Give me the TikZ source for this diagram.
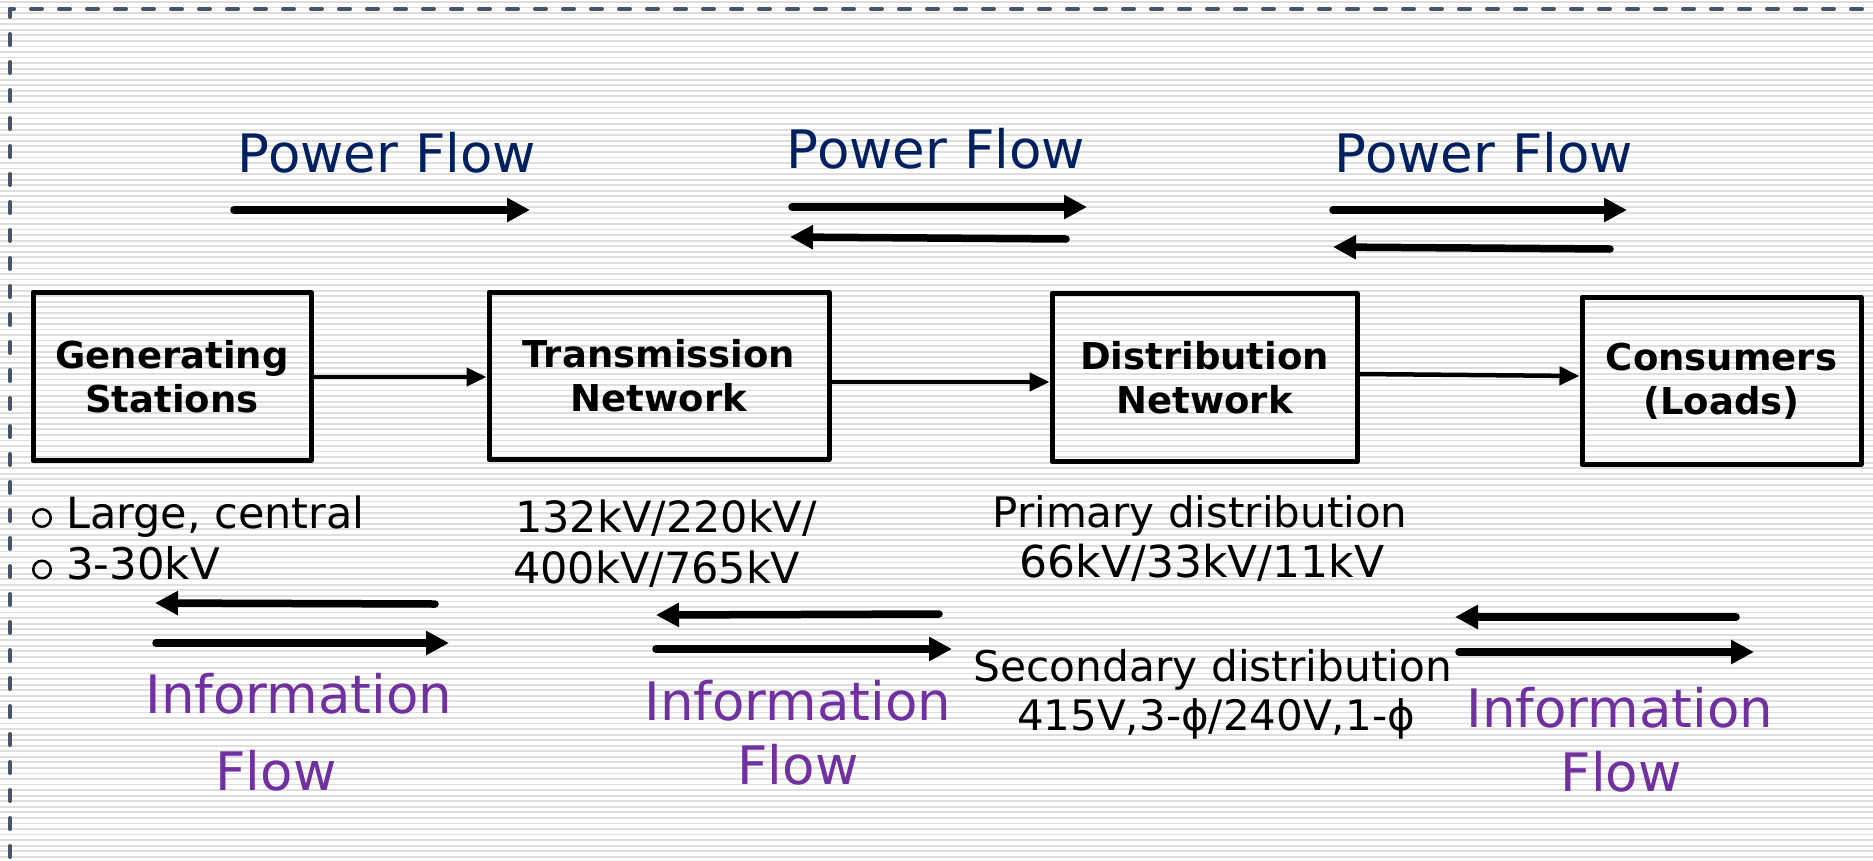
\documentclass[tikz,border=0pt]{standalone}
\usepackage{fontspec}
\setmainfont{DejaVu Sans}
\usetikzlibrary{arrows.meta}
\definecolor{navy}{HTML}{002060}
\definecolor{infopurple}{HTML}{7030A0}
\definecolor{borderslate}{HTML}{44546A}
\definecolor{bgline}{HTML}{DEDEDE}
\begin{document}
\begin{tikzpicture}[x=1pt,y=-1pt,
  blockbox/.style={draw=black,line width=5pt,line join=round,align=center,inner sep=0pt,
    font=\fontsize{37}{44}\selectfont\bfseries},
  linkarrow/.style={draw=black,line width=4.5pt,-{Triangle[length=20pt,width=18pt]}},
  flowarrow/.style={draw=black,line width=7.5pt,line cap=round,-{Triangle[length=23pt,width=23pt]}},
  powerlabel/.style={anchor=base,text=navy,inner sep=0pt,font=\fontsize{53}{63}\selectfont},
  infolabel/.style={anchor=base,text=infopurple,inner sep=0pt,font=\fontsize{53}{64}\selectfont},
  notetext/.style={inner sep=0pt,text=black,font=\fontsize{42}{50}\selectfont},
  bulletmark/.style={circle,draw=black,line width=2.5pt,minimum size=17.5pt,inner sep=0pt},
  frameline/.style={draw=borderslate,line width=4pt,line cap=round,dash pattern=on 11pt off 17pt}
]
\path[use as bounding box] (0,0) rectangle (1873,860);
\clip (0,0) rectangle (1873,860);
% background stripes
\fill[white] (0,0) rectangle (1873,860);
\foreach \yy in {2,7.55,...,862} {
  \draw[bgline,line width=1.8pt] (0,\yy) -- (1873,\yy);
}
% dashed frame
\draw[frameline,dash phase=7pt] (10,9) -- (1900,9);
\draw[frameline,dash phase=3pt] (10,9) -- (10,900);

% blocks
\node[blockbox,minimum width=278pt,minimum height=168.5pt] (gen) at (172,376.5) {Generating\\Stations};
\node[blockbox,minimum width=340pt,minimum height=167.5pt] (trans) at (659,376) {Transmission\\Network};
\node[blockbox,minimum width=305pt,minimum height=168.5pt] (dist) at (1204.5,377.5) {Distribution\\Network};
\node[blockbox,minimum width=279pt,minimum height=167.5pt] (cons) at (1721.5,381) {Consumers\\(Loads)};

% links
\draw[linkarrow] ([yshift=-0.5pt]gen.east) -- ([yshift=-1pt]trans.west);
\draw[linkarrow] ([yshift=-6pt]trans.east) -- ([yshift=-4.5pt]dist.west);
\draw[linkarrow] ([yshift=3.5pt]dist.east) -- ([yshift=5pt]cons.west);

% power flow labels
\node[powerlabel] (pw1) at (387,172) {Power Flow};
\node[powerlabel] (pw2) at (936,168) {Power Flow};
\node[powerlabel] (pw3) at (1484,172) {Power Flow};

% power flow arrows
\coordinate (pa1s) at (234,210);  \coordinate (pa1e) at (530,210);
\coordinate (pa2s) at (792,207);  \coordinate (pa2e) at (1087,207);
\coordinate (pb2s) at (1066,239); \coordinate (pb2e) at (790,237);
\coordinate (pa3s) at (1333,210); \coordinate (pa3e) at (1627,210);
\coordinate (pb3s) at (1610,249); \coordinate (pb3e) at (1333,247);
\draw[flowarrow] (pa1s) -- (pa1e);
\draw[flowarrow] (pa2s) -- (pa2e);
\draw[flowarrow] (pb2s) -- (pb2e);
\draw[flowarrow] (pa3s) -- (pa3e);
\draw[flowarrow] (pb3s) -- (pb3e);

% information flow arrows
\coordinate (ib1s) at (435,604);  \coordinate (ib1e) at (155,603);
\coordinate (ia1s) at (156,643);  \coordinate (ia1e) at (449,643);
\coordinate (ib2s) at (939,614);  \coordinate (ib2e) at (656,615);
\coordinate (ia2s) at (656,649);  \coordinate (ia2e) at (952,649);
\coordinate (ib3s) at (1736,617); \coordinate (ib3e) at (1455,617);
\coordinate (ia3s) at (1459,652); \coordinate (ia3e) at (1754,652);
\draw[flowarrow] (ib1s) -- (ib1e);
\draw[flowarrow] (ia1s) -- (ia1e);
\draw[flowarrow] (ib2s) -- (ib2e);
\draw[flowarrow] (ia2s) -- (ia2e);
\draw[flowarrow] (ib3s) -- (ib3e);
\draw[flowarrow] (ia3s) -- (ia3e);

% information flow labels
\node[infolabel] (if1a) at (299,713) {Information};
\node[infolabel] (if1b) at (276,790) {Flow};
\node[infolabel] (if2a) at (798,720) {Information};
\node[infolabel] (if2b) at (798,784) {Flow};
\node[infolabel] (if3a) at (1620,727) {Information};
\node[infolabel] (if3b) at (1621,791) {Flow};

% notes under generating stations
\node[bulletmark] (bul1) at (42,518) {};
\node[bulletmark] (bul2) at (42,569.5) {};
\node[notetext,anchor=base west,font=\fontsize{43}{50}\selectfont] (gn1) at (66,528) {Large, central};
\node[notetext,anchor=base west,font=\fontsize{43.5}{50}\selectfont] (gn2) at (66,579) {3-30kV};

% notes under transmission
\node[notetext,anchor=base west,font=\fontsize{43}{52}\selectfont] (tn1) at (515,532) {132kV/220kV/};
\node[notetext,anchor=base west,font=\fontsize{43}{52}\selectfont] (tn2) at (513,583) {400kV/765kV};

% notes under distribution
\node[notetext,anchor=base] (dn1) at (1200,527) {Primary distribution};
\node[notetext,anchor=base,font=\fontsize{44}{50}\selectfont] (dn2) at (1202,577) {66kV/33kV/11kV};
\node[notetext,anchor=base,font=\fontsize{42.3}{50}\selectfont] (dn3) at (1213,681) {Secondary distribution};
\node[notetext,anchor=base,font=\fontsize{42}{50}\selectfont] (dn4) at (1216,730) {415V,3-ϕ/240V,1-ϕ};
\end{tikzpicture}
\end{document}
